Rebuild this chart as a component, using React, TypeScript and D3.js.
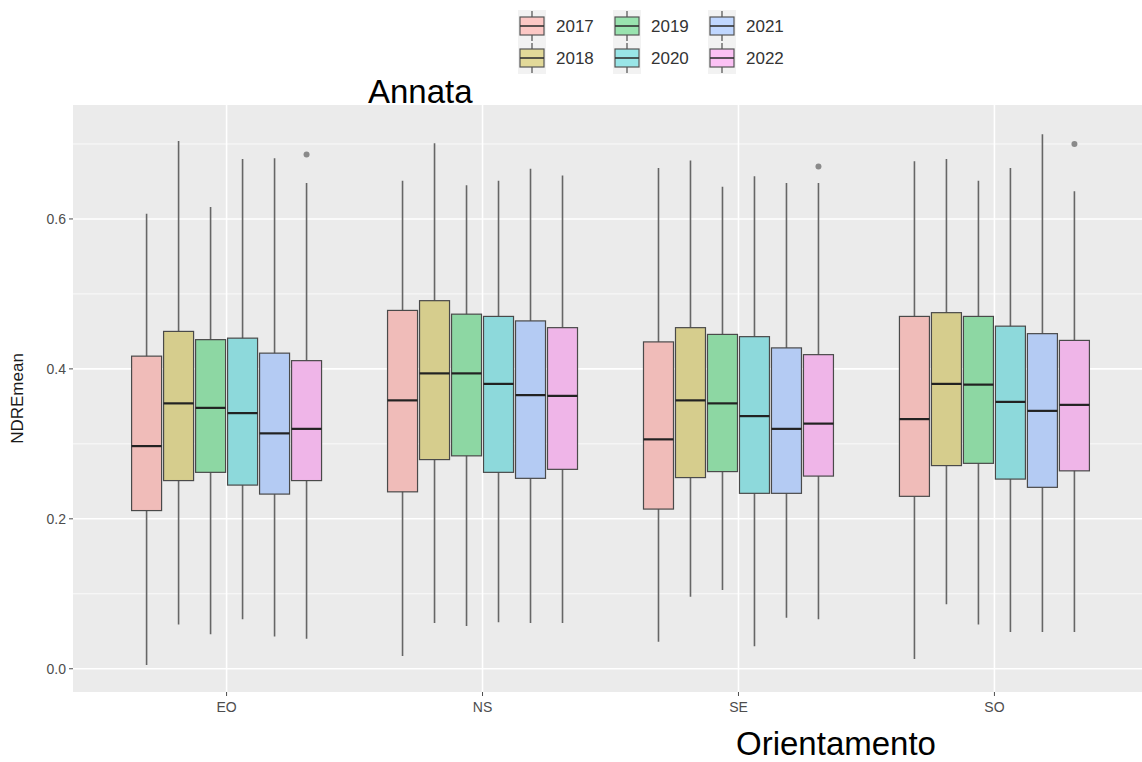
import React, { useEffect, useRef } from 'react';
import * as d3 from 'd3';

// orientations on the x axis and the years (Annata) used for the fill
const orientations = ['EO', 'NS', 'SE', 'SO'];
const years = ['2017', '2018', '2019', '2020', '2021', '2022'];
const yearColors = ['#F8766D', '#B79F00', '#00BA38', '#00BFC4', '#619CFF', '#F564E3'];
const yTicks = [0.0, 0.2, 0.4, 0.6];
const yMinor = [0.1, 0.3, 0.5, 0.7];

// box stats, one row per orientation, one column per year
const whiskerLow = [
  [0.005, 0.059, 0.046, 0.066, 0.043, 0.040],
  [0.017, 0.061, 0.057, 0.062, 0.061, 0.061],
  [0.036, 0.096, 0.105, 0.030, 0.068, 0.066],
  [0.013, 0.086, 0.059, 0.049, 0.049, 0.049],
];
const boxQ1 = [
  [0.211, 0.251, 0.262, 0.245, 0.233, 0.251],
  [0.236, 0.279, 0.284, 0.262, 0.254, 0.266],
  [0.213, 0.255, 0.263, 0.234, 0.234, 0.257],
  [0.230, 0.271, 0.274, 0.253, 0.242, 0.264],
];
const boxMedian = [
  [0.297, 0.354, 0.348, 0.341, 0.314, 0.320],
  [0.358, 0.394, 0.394, 0.380, 0.365, 0.364],
  [0.306, 0.358, 0.354, 0.337, 0.320, 0.327],
  [0.333, 0.380, 0.379, 0.356, 0.344, 0.352],
];
const boxQ3 = [
  [0.417, 0.450, 0.439, 0.441, 0.421, 0.411],
  [0.478, 0.491, 0.473, 0.470, 0.464, 0.455],
  [0.436, 0.455, 0.446, 0.443, 0.428, 0.419],
  [0.470, 0.475, 0.470, 0.457, 0.447, 0.438],
];
const whiskerHigh = [
  [0.607, 0.704, 0.616, 0.680, 0.681, 0.648],
  [0.651, 0.701, 0.645, 0.651, 0.667, 0.658],
  [0.668, 0.678, 0.643, 0.657, 0.648, 0.648],
  [0.677, 0.680, 0.651, 0.668, 0.713, 0.637],
];
// [orientation, year, value]
const outliers: [string, string, number][] = [
  ['EO', '2022', 0.686],
  ['SE', '2022', 0.670],
  ['SO', '2022', 0.700],
];

const App = () => {
  const ref = useRef<SVGSVGElement>(null);

  useEffect(() => {
    const width = 1142;
    const height = 762;
    const panel = { left: 73, right: 1148, top: 105, bottom: 692 };
    const font = 'Liberation Sans, Arial, Helvetica, sans-serif';

    const svg = d3.select(ref.current)
      .attr('width', width)
      .attr('height', height)
      .attr('viewBox', `0 0 ${width} ${height}`)
      .style('display', 'block')
      .style('position', 'absolute')
      .style('left', '0px')
      .style('top', '0px')
      .style('font-family', font);

    svg.selectAll('*').remove();

    const x = d3.scalePoint<string>().domain(orientations).range([panel.left, panel.right]).padding(0.6);
    const dodge = d3.scaleBand<string>().domain(years).range([-0.375 * x.step(), 0.375 * x.step()]);
    const y = d3.scaleLinear().domain([-0.031, 0.752]).range([panel.bottom, panel.top]);
    const color = d3.scaleOrdinal<string, string>().domain(years).range(yearColors);

    svg.append('rect').attr('width', width).attr('height', height).attr('fill', '#fff');

    // panel
    svg.append('rect')
      .attr('x', panel.left).attr('y', panel.top)
      .attr('width', width - panel.left).attr('height', panel.bottom - panel.top)
      .attr('fill', '#EBEBEB');

    const grid = svg.append('g').attr('stroke', '#fff');
    grid.selectAll('.minor').data(yMinor).join('line')
      .attr('x1', panel.left).attr('x2', width)
      .attr('y1', d => y(d)).attr('y2', d => y(d))
      .attr('stroke-width', 0.8);
    grid.selectAll('.major').data(yTicks).join('line')
      .attr('x1', panel.left).attr('x2', width)
      .attr('y1', d => y(d)).attr('y2', d => y(d))
      .attr('stroke-width', 1.6);
    grid.selectAll('.vert').data(orientations).join('line')
      .attr('x1', d => x(d)!).attr('x2', d => x(d)!)
      .attr('y1', panel.top).attr('y2', panel.bottom)
      .attr('stroke-width', 1.6);

    // boxes
    const bw = dodge.bandwidth() - 2;
    orientations.forEach((o, oi) => {
      const g = svg.append('g');
      years.forEach((yr, yi) => {
        const cx = x(o)! + dodge(yr)! + dodge.bandwidth() / 2;
        g.append('line')
          .attr('x1', cx).attr('x2', cx)
          .attr('y1', y(whiskerLow[oi][yi])).attr('y2', y(whiskerHigh[oi][yi]))
          .attr('stroke', '#666').attr('stroke-width', 1.6);
        g.append('rect')
          .attr('x', cx - bw / 2).attr('width', bw)
          .attr('y', y(boxQ3[oi][yi]))
          .attr('height', y(boxQ1[oi][yi]) - y(boxQ3[oi][yi]))
          .attr('fill', d3.interpolateRgb('#EBEBEB', color(yr))(0.4))
          .attr('stroke', '#4a4a4a').attr('stroke-width', 1.2);
        g.append('line')
          .attr('x1', cx - bw / 2).attr('x2', cx + bw / 2)
          .attr('y1', y(boxMedian[oi][yi])).attr('y2', y(boxMedian[oi][yi]))
          .attr('stroke', '#222').attr('stroke-width', 2.2);
      });
    });

    svg.append('g').selectAll('circle').data(outliers).join('circle')
      .attr('cx', d => x(d[0])! + dodge(d[1])! + dodge.bandwidth() / 2)
      .attr('cy', d => y(d[2]))
      .attr('r', 3)
      .attr('fill', '#8a8a8a');

    // y axis
    const yAxis = svg.append('g');
    yAxis.selectAll('line').data(yTicks).join('line')
      .attr('x1', panel.left - 4).attr('x2', panel.left)
      .attr('y1', d => y(d)).attr('y2', d => y(d))
      .attr('stroke', '#4d4d4d').attr('stroke-width', 1);
    yAxis.selectAll('text').data(yTicks).join('text')
      .attr('x', panel.left - 7).attr('y', d => y(d))
      .attr('dy', '0.35em').attr('text-anchor', 'end')
      .attr('font-size', 14).attr('fill', '#4d4d4d')
      .text(d => d3.format('.1f')(d));

    svg.append('text')
      .attr('transform', `translate(23,${(panel.top + panel.bottom) / 2}) rotate(-90)`)
      .attr('text-anchor', 'middle')
      .attr('font-size', 17).attr('fill', '#1a1a1a')
      .text('NDREmean');

    // x axis
    const xAxis = svg.append('g');
    xAxis.selectAll('line').data(orientations).join('line')
      .attr('x1', d => x(d)!).attr('x2', d => x(d)!)
      .attr('y1', panel.bottom).attr('y2', panel.bottom + 4)
      .attr('stroke', '#4d4d4d').attr('stroke-width', 1);
    xAxis.selectAll('text').data(orientations).join('text')
      .attr('x', d => x(d)!).attr('y', panel.bottom + 20)
      .attr('text-anchor', 'middle')
      .attr('font-size', 14).attr('fill', '#4d4d4d')
      .text(d => d);

    svg.append('text')
      .attr('x', 836).attr('y', 755)
      .attr('text-anchor', 'middle')
      .attr('font-size', 33).attr('fill', '#000')
      .text('Orientamento');

    svg.append('text')
      .attr('x', 368).attr('y', 103)
      .attr('font-size', 33).attr('fill', '#000')
      .text('Annata');

    // legend, 3 columns x 2 rows
    const legend = svg.append('g');
    const colX = d3.scalePoint<number>().domain([0, 1, 2]).range([519, 709]);
    const rowY = d3.scalePoint<number>().domain([0, 1]).range([26, 58]);
    years.forEach((yr, i) => {
      const kx = colX(Math.floor(i / 2))!;
      const ky = rowY(i % 2)!;
      const k = legend.append('g').attr('transform', `translate(${kx},${ky})`);
      k.append('rect').attr('x', -1).attr('y', -16).attr('width', 28).attr('height', 32).attr('fill', '#F2F2F2');
      k.append('line').attr('x1', 13).attr('x2', 13).attr('y1', -15).attr('y2', 15)
        .attr('stroke', '#666').attr('stroke-width', 1.4);
      k.append('rect').attr('x', 1).attr('y', -9).attr('width', 24).attr('height', 18)
        .attr('fill', d3.interpolateRgb('#fff', color(yr))(0.4))
        .attr('stroke', '#555').attr('stroke-width', 1.2);
      k.append('line').attr('x1', 1).attr('x2', 25).attr('y1', 0).attr('y2', 0)
        .attr('stroke', '#333').attr('stroke-width', 1.6);
      k.append('text').attr('x', 37).attr('y', 0).attr('dy', '0.35em')
        .attr('font-size', 17).attr('fill', '#333')
        .text(yr);
    });
  }, []);

  return <svg ref={ref}></svg>;
};

export default App;
